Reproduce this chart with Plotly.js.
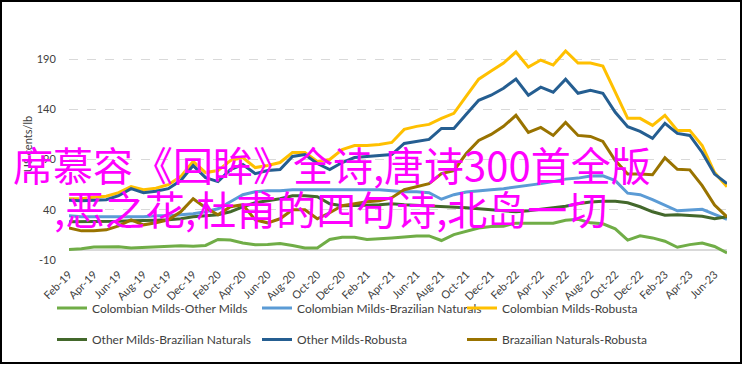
<!DOCTYPE html>
<html>
<head>
<meta charset="utf-8">
<script src="https://cdn.plot.ly/plotly-3.0.1.min.js"></script>
<style>
  html, body { margin: 0; padding: 0; background: #fff; }
  #wrap { position: relative; width: 744px; height: 366px; }
  #chart { position: absolute; left: 0; top: 0; width: 744px; height: 366px; }
  #frame { position: absolute; left: 0; top: 0; width: 742px; height: 364px; box-sizing: border-box; border: 2px solid #000; pointer-events: none; }
</style>
</head>
<body>
<div id="wrap"><div id="chart"></div><div id="frame"></div></div>
<script>
const months = ["Feb-19","Mar-19","Apr-19","May-19","Jun-19","Jul-19","Aug-19","Sep-19","Oct-19","Nov-19","Dec-19",
  "Jan-20","Feb-20","Mar-20","Apr-20","May-20","Jun-20","Jul-20","Aug-20","Sep-20","Oct-20","Nov-20","Dec-20",
  "Jan-21","Feb-21","Mar-21","Apr-21","May-21","Jun-21","Jul-21","Aug-21","Sep-21","Oct-21","Nov-21","Dec-21",
  "Jan-22","Feb-22","Mar-22","Apr-22","May-22","Jun-22","Jul-22","Aug-22","Sep-22","Oct-22","Nov-22","Dec-22",
  "Jan-23","Feb-23","Mar-23","Apr-23","May-23","Jun-23","Jul-23"];

const tickLabels = ["Feb-19","Apr-19","Jun-19","Aug-19","Oct-19","Dec-19","Feb-20","Apr-20","Jun-20","Aug-20","Oct-20","Dec-20",
  "Feb-21","Apr-21","Jun-21","Aug-21","Oct-21","Dec-21","Feb-22","Apr-22","Jun-22","Aug-22","Oct-22","Dec-22",
  "Feb-23","Apr-23","Jun-23"];

const cmOtherMilds = [0.5,1.3,3,3.3,3.3,2,2.6,3,4.2,4.2, 3.6,4.5,10.4,9.8,7,5.2,5.5,6.5,4.5,2, 2,10.4,12.7,12.7,10.4,11,12,13,14,14,
  9.4,15.3,18.5,21.8,23.4,23.7,26.7,26.7,26,26.7, 29.5,30.5,27,26,21,9.8,14,12,8.7,2.7, 5.3,6.8,3.5,-3];

const cmBrazilian = [34,33,33,33,33,33,33,34,34,35, 36,38,41,48,55,58,59,59,60,60, 60,60,60,60,60,60,59,58,58,57,
  50.5,55,57.6,59,60,61,62.5,64,66,68, 70.5,71.5,73.5,73.8,69,56.5,55,50,44.5,39, 39.7,40.5,35.5,30.5];

const cmRobusta = [51,51,52.5,53.5,57,63,60,61.5,65,73, 88,77,79,89,92,82,84,87,97,97, 88,90,100,104,104,105,107,120,123,125,
  131,136,153,170,178,186,197,182,189,184, 198,186,186,183,157,131,131,124,134,119, 119,104,77,63];

const omBrazilian = [28,28,28,28,28.5,29,29,29.5,30,31, 33,34,35,38,43,47,49,51,54,54, 53,46,44,44,44.5,45,46,45,44.5,44,
  43,43,42,41,40,39,38,39,40.5,42, 43.5,46,47.8,48.4,48.4,47,43,38,34.5,35, 34,33.5,31,33];

const omRobusta = [49.4,49,49.5,50,54,61,57,58.5,61,69, 84,72,68,80,85,76,79,80,93,95, 86,80,87,92,93,94,95,106,108,110,
  121,121,135,149,154,161,170,154,162,157, 170,156,159,156,137,122.6,118,111,126,116, 114,97,75.5,66];

const bnRobusta = [22,19,19,20,24,30,25,27,30,38, 51,42,35,43,45,30,27,31,40,40, 31,37,44,46,48,49,52,60,63,66,
  76,79,96,109,115,123,134,117,122,114, 127,114,113,108,89,75.5,75.7,74.8,91.7,80.3, 79.7,64,44.6,33];

const seriesNames = ["Colombian Milds-Other Milds","Colombian Milds-Brazilian Naturals","Colombian Milds-Robusta",
  "Other Milds-Brazilian Naturals","Other Milds-Robusta","Brazailian Naturals-Robusta"];
const seriesData = [cmOtherMilds, cmBrazilian, cmRobusta, omBrazilian, omRobusta, bnRobusta];
const seriesColors = ["#70AD47","#5B9BD5","#FFC000","#43682B","#255E91","#997300"];
const yTicks = [-10, 40, 90, 140, 190];

const overlayLine1 = "席慕容《回眸》全诗,唐诗300首全版";
const overlayLine2 = ",恶之花,杜甫的四句诗,北岛一切";
const yTitle = "US cents/lb";

const baseFont = "Lato, 'Open Sans', sans-serif";

const traces = seriesData.map((d, k) => ({
  type: "scatter",
  mode: "lines",
  x: months,
  y: d,
  name: seriesNames[k],
  line: { color: seriesColors[k], width: 3 },
  legend: k < 3 ? "legend" : "legend2",
  hoverinfo: "skip"
}));

// plot area: x 69..727, value 200 at y≈49, value -10 at y=264
const L = 69, R = 727, T = 49, B = 264, W = 744, H = 366;
const px2x = p => (p - L) / (R - L);
const px2y = p => (B - p) / (B - T);

const legendCommon = {
  orientation: "h",
  xanchor: "left",
  yanchor: "middle",
  x: px2x(52),
  font: { family: baseFont, size: 12, color: "#404040" },
  entrywidth: 160,
  entrywidthmode: "pixels",
  bgcolor: "rgba(0,0,0,0)",
  borderwidth: 0
};

const layout = {
  width: W, height: H,
  margin: { l: L, r: W - R, t: T, b: H - B, pad: 0 },
  paper_bgcolor: "#fff",
  plot_bgcolor: "#fff",
  font: { family: baseFont, size: 11, color: "#404040" },
  showlegend: true,
  legend: Object.assign({}, legendCommon, { y: px2y(313) }),
  legend2: Object.assign({}, legendCommon, { y: px2y(345) }),
  xaxis: {
    type: "category",
    range: [0, months.length - 1],
    tickmode: "array",
    tickvals: tickLabels,
    ticktext: tickLabels,
    tickangle: -45,
    ticks: "outside",
    ticklen: 3,
    tickcolor: "rgba(0,0,0,0)",
    showgrid: false,
    zeroline: false,
    showline: false,
    tickfont: { family: baseFont, size: 11, color: "#404040" },
    fixedrange: true
  },
  yaxis: {
    range: [-10, 200],
    tickmode: "array",
    tickvals: yTicks,
    ticktext: yTicks.map(String),
    ticks: "outside",
    ticklen: 10,
    tickcolor: "rgba(0,0,0,0)",
    showgrid: true,
    gridcolor: "#D9D9D9",
    griddash: "dash",
    gridwidth: 1,
    zeroline: true,
    zerolinecolor: "#D9D9D9",
    zerolinewidth: 1.3,
    showline: false,
    tickfont: { family: baseFont, size: 11, color: "#404040" },
    fixedrange: true
  },
  annotations: [
    {
      xref: "paper", yref: "paper", x: px2x(27), y: px2y(146),
      text: yTitle, showarrow: false, textangle: -90,
      xanchor: "center", yanchor: "middle",
      font: { family: baseFont, size: 11, color: "#404040" }
    },
    {
      xref: "paper", yref: "paper", x: px2x(332), y: px2y(166),
      text: overlayLine1, showarrow: false,
      xanchor: "center", yanchor: "middle",
      font: { family: "'Noto Sans CJK SC', sans-serif", size: 40, color: "#FF00FF" }
    },
    {
      xref: "paper", yref: "paper", x: px2x(330), y: px2y(211),
      text: overlayLine2, showarrow: false,
      xanchor: "center", yanchor: "middle",
      font: { family: "'Noto Sans CJK SC', sans-serif", size: 40, color: "#FF00FF" }
    }
  ]
};

Plotly.newPlot("chart", traces, layout, { staticPlot: true, displayModeBar: false });
</script>
</body>
</html>
